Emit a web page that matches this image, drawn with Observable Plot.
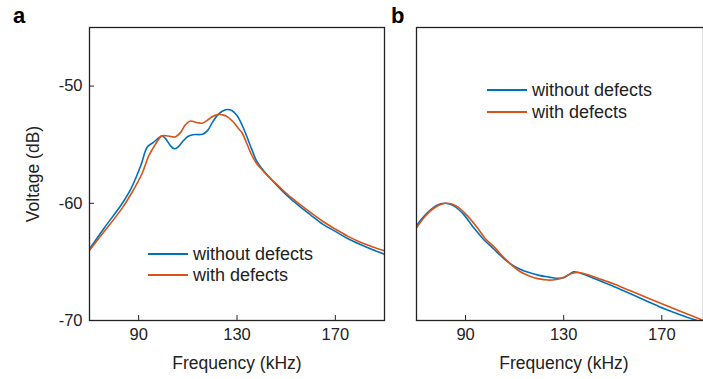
<!DOCTYPE html>
<html><head><meta charset="utf-8">
<script src="https://cdn.jsdelivr.net/npm/d3@7"></script>
<script src="https://cdn.jsdelivr.net/npm/@observablehq/plot@0.6"></script>
<style>
body{margin:0;background:#fff;font-family:"Liberation Sans",Arial,sans-serif;}
#fig{position:relative;width:703px;height:379px;overflow:hidden;background:#fff;}
#fig svg{position:absolute;top:0;font-family:"Liberation Sans",Arial,sans-serif;}
.lbl{position:absolute;font-weight:bold;font-size:22px;color:#000;line-height:22px;}
.legend{position:absolute;font-size:18px;color:#222;}
.legend .row{display:flex;align-items:center;}
.legend .sw{width:40px;height:2px;margin-right:5px;}
</style></head><body><div id="fig"></div>
<script>
// ---- Panel a data ----
const freqA_without = [70,76,83,87,91,93.5,96,98,99.5,101,103,104.5,106,108,110,112,116,118,120,122,124,126,128,130,132,134,136,138,140,142,145,148,152,156,160,165,170,175,180,185,190];
const voltA_without = [-63.9,-62.1,-60.1,-58.7,-56.7,-55.2,-54.8,-54.45,-54.25,-54.5,-55.1,-55.35,-55.2,-54.7,-54.3,-54.15,-54.1,-53.8,-53.1,-52.5,-52.15,-52.0,-52.1,-52.5,-53.3,-54.3,-55.4,-56.4,-57.0,-57.5,-58.2,-58.85,-59.65,-60.35,-61.0,-61.8,-62.4,-63.0,-63.5,-63.95,-64.35];
const freqA_with = [70,76.4,83,87.2,91.3,94,96.7,99.4,102,104.8,107,109,111,113.5,115.8,118,120,122.6,124,126,128.7,130.5,132.1,134,136,138,140,142,145,148,152,156,160,165,170,175,180,185,190];
const voltA_with = [-64.0,-62.3,-60.5,-59.1,-57.5,-56.0,-55.0,-54.26,-54.26,-54.34,-53.97,-53.3,-52.98,-53.1,-53.17,-52.9,-52.6,-52.41,-52.45,-52.6,-53.1,-53.6,-54.0,-54.9,-55.9,-56.6,-57.1,-57.55,-58.15,-58.75,-59.5,-60.15,-60.8,-61.55,-62.2,-62.8,-63.3,-63.7,-64.05];

// ---- Panel b data ----
const freqB_without = [70,74,78,81.5,85,89,93,97,101.5,105,108.5,112,116.5,120,124,127,130,132,134,136,140,144,150,157,164,171,178,185,190];
const voltB_without = [-61.9,-60.9,-60.2,-60.0,-60.2,-60.9,-62.0,-63.0,-63.9,-64.6,-65.2,-65.6,-65.95,-66.15,-66.3,-66.4,-66.35,-66.1,-65.85,-65.9,-66.2,-66.55,-67.05,-67.7,-68.35,-69.0,-69.55,-70.05,-70.4];
const freqB_with = [70,74,78,82,86,90,94.5,98,102,105,108.5,112,116,120,123.5,127,130,132,134,136,140,144,150,157,164,171,178,187,190];
const voltB_with = [-62.1,-61.0,-60.3,-60.0,-60.2,-60.9,-62.0,-63.0,-63.8,-64.5,-65.2,-65.8,-66.2,-66.45,-66.55,-66.5,-66.3,-66.1,-65.95,-65.9,-66.1,-66.4,-66.85,-67.45,-68.05,-68.65,-69.25,-70.0,-70.25];

const seriesNames = ["without defects", "with defects"];
const seriesColors = ["#0072BD", "#D95319"];
const xTicks = [90, 130, 170];
const yTicks = [-70, -60, -50];
const xDomain = [70, 190];
const yDomain = [-70, -45];

function rows(f, v, s) { return f.map((d, i) => ({f: d, v: v[i], s})); }
const dataA = [...rows(freqA_without, voltA_without, seriesNames[0]), ...rows(freqA_with, voltA_with, seriesNames[1])];
const dataB = [...rows(freqB_without, voltB_without, seriesNames[0]), ...rows(freqB_with, voltB_with, seriesNames[1])];

const frameColor = "#222";
const textColor = "#222";

const color = {domain: seriesNames, range: seriesColors};

const plotA = Plot.plot({
  width: 390, height: 379,
  marginLeft: 89, marginRight: 6, marginTop: 27, marginBottom: 59,
  x: {domain: xDomain},
  y: {domain: yDomain},
  color,
  style: {color: textColor, fontFamily: "Liberation Sans, Arial, sans-serif", background: "transparent"},
  marks: [
    Plot.line(dataA, {x: "f", y: "v", z: "s", stroke: "s", strokeWidth: 1.6, curve: "catmull-rom", clip: true}),
    Plot.frame({stroke: frameColor, strokeWidth: 1.3}),
    Plot.axisX(xTicks, {tickSize: -5, tickPadding: 13, fontSize: 16.5, label: null, stroke: frameColor, tickFormat: d => String(d)}),
    Plot.axisY(yTicks, {tickSize: -5, tickPadding: 12, fontSize: 16.5, label: null, stroke: frameColor, tickFormat: d => String(d)}),
    Plot.text(["Frequency (kHz)"], {frameAnchor: "bottom", lineAnchor: "middle", textAnchor: "middle", dy: 43, fontSize: 17.5, fill: textColor}),
    Plot.text(["Voltage (dB)"], {frameAnchor: "left", lineAnchor: "middle", textAnchor: "middle", rotate: -90, dx: -56, fontSize: 17.5, fill: textColor})
  ]
});
plotA.style.left = "0px";

const plotB = Plot.plot({
  width: 313, height: 379,
  marginLeft: 26, marginRight: 0, marginTop: 27, marginBottom: 59,
  x: {domain: [70, 187]},
  y: {domain: yDomain, axis: null},
  color,
  style: {color: textColor, fontFamily: "Liberation Sans, Arial, sans-serif", background: "transparent"},
  marks: [
    Plot.line(dataB, {x: "f", y: "v", z: "s", stroke: "s", strokeWidth: 1.6, curve: "catmull-rom", clip: true}),
    Plot.frame({stroke: frameColor, strokeWidth: 1.3}),
    Plot.axisX(xTicks, {tickSize: -5, tickPadding: 13, fontSize: 16.5, label: null, stroke: frameColor, tickFormat: d => String(d)}),
    Plot.text(["Frequency (kHz)"], {frameAnchor: "bottom", lineAnchor: "middle", textAnchor: "middle", dy: 43, dx: 4, fontSize: 17.5, fill: textColor})
  ]
});
plotB.style.left = "390px";

const fig = document.getElementById("fig");
fig.appendChild(plotA);
fig.appendChild(plotB);

function addLabel(t, left, top) {
  const d = document.createElement("div");
  d.className = "lbl"; d.textContent = t;
  d.style.left = left + "px"; d.style.top = top + "px";
  fig.appendChild(d);
}
addLabel("a", 13, 5);
addLabel("b", 391, 5);

function addLegend(left, top, lh) {
  const d = document.createElement("div");
  d.className = "legend";
  d.style.left = left + "px"; d.style.top = top + "px";
  seriesNames.forEach((n, i) => {
    const r = document.createElement("div");
    r.className = "row"; r.style.height = lh + "px";
    const sw = document.createElement("span");
    sw.className = "sw"; sw.style.background = seriesColors[i];
    const tx = document.createElement("span"); tx.textContent = n;
    r.appendChild(sw); r.appendChild(tx);
    d.appendChild(r);
  });
  fig.appendChild(d);
}
addLegend(148, 243.5, 21);
addLegend(487, 79, 22);
</script></body></html>
